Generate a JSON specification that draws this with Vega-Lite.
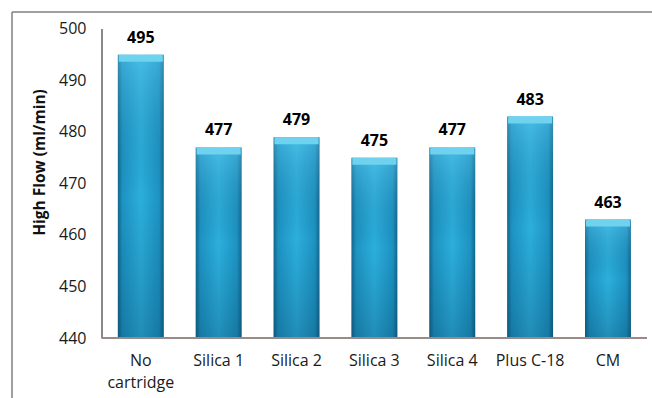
{
  "$schema": "https://vega.github.io/schema/vega-lite/v6.json",
  "autosize": {"type": "none"},
  "padding": {"left": 12, "top": 12, "right": 0, "bottom": 0},
  "width": 640,
  "height": 386,
  "background": "#ffffff",
  "config": {
    "view": {"stroke": "#808080", "strokeWidth": 1.5, "strokeDash": [640, 1026, 386, 0]},
    "font": "Open Sans"
  },
  "data": {
    "values": [
      {"sample": "No cartridge", "flow": 495},
      {"sample": "Silica 1", "flow": 477},
      {"sample": "Silica 2", "flow": 479},
      {"sample": "Silica 3", "flow": 475},
      {"sample": "Silica 4", "flow": 477},
      {"sample": "Plus C-18", "flow": 483},
      {"sample": "CM", "flow": 463}
    ]
  },
  "encoding": {
    "x": {
      "field": "sample",
      "type": "nominal",
      "sort": null,
      "scale": {"paddingInner": 0.41, "paddingOuter": 0.815, "align": 0.834},
      "axis": {
        "orient": "bottom",
        "offset": -60,
        "title": null,
        "domain": false,
        "ticks": false,
        "tickSize": 0,
        "labelAngle": 0,
        "labelPadding": 14,
        "labelFontSize": 16,
        "labelColor": "#1a1a1a",
        "labelLineHeight": 22,
        "labelExpr": "datum.label == 'No cartridge' ? ['No', 'cartridge'] : datum.label"
      }
    },
    "y": {
      "field": "flow",
      "type": "quantitative",
      "scale": {"domain": [428.35, 503.3], "nice": false, "zero": false},
      "axis": {
        "orient": "left",
        "offset": -90,
        "values": [440, 450, 460, 470, 480, 490, 500],
        "domain": false,
        "ticks": false,
        "tickSize": 0,
        "grid": false,
        "labelPadding": 16,
        "labelFontSize": 16,
        "labelColor": "#1a1a1a",
        "title": "High Flow (ml/min)",
        "titleFontSize": 15.5,
        "titleFontWeight": "bold",
        "titleColor": "#111111",
        "titlePadding": 11,
        "titleY": 150
      }
    }
  },
  "layer": [
    {
      "mark": {
        "type": "bar",
        "fill": {
          "gradient": "linear",
          "x1": 0, "x2": 1, "y1": 0, "y2": 0,
          "stops": [
            {"offset": 0, "color": "#12668a"},
            {"offset": 0.1, "color": "#1d93c2"},
            {"offset": 0.5, "color": "#2cafdc"},
            {"offset": 0.9, "color": "#1d93c2"},
            {"offset": 1, "color": "#12668a"}
          ]
        }
      },
      "encoding": {"y2": {"datum": 440}}
    },
    {
      "mark": {
        "type": "bar",
        "fill": {
          "gradient": "linear",
          "x1": 0, "x2": 0, "y1": 0, "y2": 1,
          "stops": [
            {"offset": 0, "color": "rgba(120,220,255,0.35)"},
            {"offset": 0.5, "color": "rgba(0,60,100,0.0)"},
            {"offset": 1, "color": "rgba(0,40,70,0.25)"}
          ]
        }
      },
      "encoding": {"y2": {"datum": 440}}
    },
    {
      "mark": {"type": "tick", "color": "#6fd2ee", "thickness": 7, "size": 44, "yOffset": 3.5, "opacity": 1}
    },
    {
      "mark": {"type": "text", "fontWeight": "bold", "fontSize": 16, "color": "#000000", "baseline": "alphabetic", "dy": -12},
      "encoding": {"text": {"field": "flow", "type": "quantitative"}}
    },
    {
      "mark": {"type": "rule", "color": "#8a8a8a", "strokeWidth": 1.5, "xOffset": -16},
      "encoding": {
        "x": {"datum": "No cartridge", "type": "nominal", "bandPosition": 0},
        "y": {"datum": 440, "type": "quantitative"},
        "y2": {"datum": 500}
      }
    },
    {
      "mark": {"type": "rule", "color": "#9a8a8a", "strokeWidth": 1.5, "xOffset": -16, "x2Offset": 16},
      "encoding": {
        "x": {"datum": "No cartridge", "type": "nominal", "bandPosition": 0},
        "x2": {"datum": "CM", "bandPosition": 1},
        "y": {"datum": 440, "type": "quantitative"}
      }
    }
  ]
}
